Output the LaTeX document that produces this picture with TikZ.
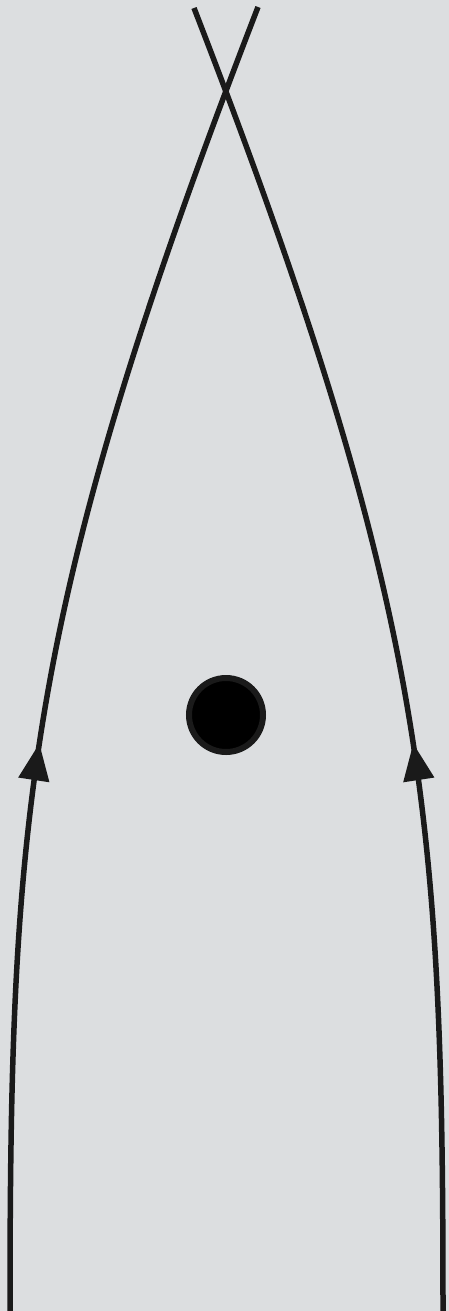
\documentclass[tikz,border=0pt]{standalone}
\usetikzlibrary{arrows.meta,decorations.markings}
\definecolor{bg}{RGB}{220,222,224}
\definecolor{ink}{RGB}{26,26,26}
\tikzset{
  strand/.style={draw=ink,line width=5.5pt,line cap=butt},
  midarrow/.style={postaction={decorate},decoration={markings,
    mark=at position #1 with {\arrow{Triangle[length=37pt,width=30pt]}}}},
  dotstyle/.style={circle,fill=black,draw=ink,line width=6pt,minimum size=74pt,inner sep=0pt}
}
\begin{document}
\begin{tikzpicture}[x=1pt,y=-1pt]
\fill[bg] (0,0) rectangle (449,1311);
\useasboundingbox (0,0) rectangle (449,1311);
\coordinate (l0) at (10,1311);
\coordinate (l1) at (258,7);
\coordinate (r0) at (443,1311);
\coordinate (r1) at (194,8);
\draw[strand,midarrow=569pt] (l0) .. controls (10,811) and (26,607) .. (l1);
\draw[strand,midarrow=569pt] (r0) .. controls (443,811) and (426,607) .. (r1);
\node[dotstyle] (dot) at (226,715) {};
\end{tikzpicture}
\end{document}
